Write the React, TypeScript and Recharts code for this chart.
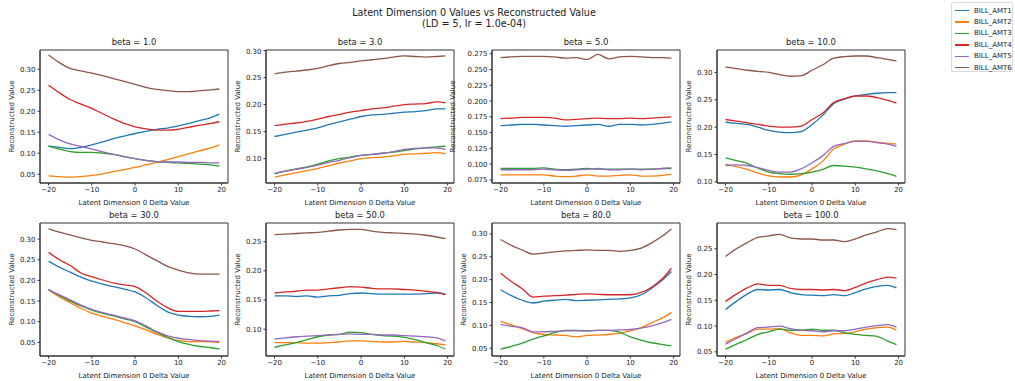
import { LineChart, Line, XAxis, YAxis, ReferenceArea } from "recharts";

const FONT = "'DejaVu Sans', sans-serif";

// latent delta values along the x axis
const DELTA = [-20, -17.5, -15, -12.5, -10, -7.5, -5, -2.5, 0, 2.5, 5, 7.5, 10, 12.5, 15, 17.5, 19.5];
const X_TICKS = [-20, -10, 0, 10, 20];

const SERIES = ["BILL_AMT1", "BILL_AMT2", "BILL_AMT3", "BILL_AMT4", "BILL_AMT5", "BILL_AMT6"];
const COLORS = ["#1f77b4", "#ff7f0e", "#2ca02c", "#d62728", "#9467bd", "#8c564b"];

const BETAS = ["1.0", "3.0", "5.0", "10.0", "30.0", "50.0", "80.0", "100.0"];

// one row per BILL_AMT column
const BETA_1 = [
  [0.117, 0.114, 0.111, 0.114, 0.120, 0.127, 0.135, 0.141, 0.147, 0.152, 0.157, 0.160, 0.165, 0.171, 0.178, 0.185, 0.193],
  [0.046, 0.044, 0.043, 0.044, 0.047, 0.051, 0.056, 0.061, 0.066, 0.072, 0.078, 0.085, 0.092, 0.099, 0.106, 0.113, 0.120],
  [0.117, 0.110, 0.104, 0.102, 0.102, 0.100, 0.097, 0.092, 0.087, 0.083, 0.080, 0.078, 0.077, 0.076, 0.074, 0.072, 0.069],
  [0.262, 0.244, 0.228, 0.217, 0.207, 0.194, 0.182, 0.171, 0.163, 0.158, 0.155, 0.155, 0.157, 0.162, 0.167, 0.171, 0.175],
  [0.145, 0.132, 0.122, 0.116, 0.110, 0.103, 0.097, 0.092, 0.087, 0.083, 0.080, 0.079, 0.079, 0.078, 0.078, 0.077, 0.077],
  [0.334, 0.316, 0.302, 0.296, 0.291, 0.285, 0.278, 0.271, 0.264, 0.257, 0.252, 0.249, 0.247, 0.247, 0.249, 0.251, 0.253],
];

const BETA_3 = [
  [0.141, 0.145, 0.149, 0.153, 0.157, 0.163, 0.168, 0.173, 0.178, 0.181, 0.182, 0.184, 0.186, 0.187, 0.189, 0.192, 0.192],
  [0.066, 0.070, 0.074, 0.078, 0.082, 0.087, 0.092, 0.096, 0.100, 0.102, 0.103, 0.105, 0.108, 0.109, 0.110, 0.111, 0.109],
  [0.072, 0.077, 0.081, 0.085, 0.090, 0.096, 0.100, 0.103, 0.106, 0.108, 0.110, 0.112, 0.115, 0.118, 0.120, 0.122, 0.123],
  [0.161, 0.164, 0.166, 0.169, 0.173, 0.178, 0.182, 0.186, 0.189, 0.192, 0.194, 0.197, 0.200, 0.201, 0.202, 0.205, 0.203],
  [0.073, 0.077, 0.080, 0.084, 0.088, 0.093, 0.097, 0.102, 0.106, 0.108, 0.110, 0.113, 0.117, 0.119, 0.120, 0.120, 0.117],
  [0.257, 0.260, 0.262, 0.264, 0.267, 0.272, 0.276, 0.278, 0.281, 0.283, 0.285, 0.288, 0.290, 0.289, 0.288, 0.289, 0.290],
];

const BETA_5 = [
  [0.161, 0.162, 0.163, 0.163, 0.162, 0.161, 0.160, 0.161, 0.162, 0.163, 0.160, 0.163, 0.163, 0.162, 0.163, 0.165, 0.167],
  [0.083, 0.083, 0.083, 0.083, 0.083, 0.081, 0.080, 0.081, 0.083, 0.081, 0.081, 0.082, 0.083, 0.081, 0.081, 0.082, 0.084],
  [0.093, 0.093, 0.093, 0.093, 0.094, 0.092, 0.091, 0.092, 0.093, 0.092, 0.092, 0.092, 0.092, 0.092, 0.092, 0.093, 0.093],
  [0.172, 0.173, 0.174, 0.174, 0.174, 0.173, 0.170, 0.171, 0.172, 0.173, 0.172, 0.172, 0.173, 0.172, 0.173, 0.174, 0.175],
  [0.091, 0.091, 0.091, 0.091, 0.092, 0.091, 0.090, 0.091, 0.092, 0.093, 0.091, 0.091, 0.092, 0.091, 0.092, 0.093, 0.094],
  [0.269, 0.270, 0.271, 0.271, 0.271, 0.270, 0.268, 0.269, 0.266, 0.274, 0.267, 0.270, 0.271, 0.270, 0.269, 0.269, 0.268],
];

const BETA_10 = [
  [0.209, 0.207, 0.205, 0.200, 0.194, 0.191, 0.190, 0.192, 0.205, 0.222, 0.243, 0.251, 0.257, 0.260, 0.262, 0.263, 0.263],
  [0.132, 0.128, 0.123, 0.116, 0.111, 0.109, 0.109, 0.113, 0.124, 0.138, 0.160, 0.169, 0.175, 0.175, 0.172, 0.171, 0.169],
  [0.144, 0.139, 0.134, 0.125, 0.118, 0.115, 0.114, 0.115, 0.118, 0.123, 0.130, 0.129, 0.127, 0.124, 0.120, 0.115, 0.110],
  [0.214, 0.211, 0.208, 0.205, 0.202, 0.200, 0.200, 0.202, 0.214, 0.226, 0.245, 0.252, 0.257, 0.257, 0.254, 0.249, 0.244],
  [0.130, 0.131, 0.130, 0.126, 0.121, 0.118, 0.118, 0.124, 0.135, 0.148, 0.165, 0.170, 0.174, 0.174, 0.172, 0.169, 0.165],
  [0.310, 0.307, 0.304, 0.302, 0.300, 0.296, 0.293, 0.294, 0.304, 0.314, 0.326, 0.329, 0.330, 0.330, 0.327, 0.324, 0.321],
];

const BETA_30 = [
  [0.246, 0.232, 0.220, 0.208, 0.198, 0.191, 0.185, 0.179, 0.172, 0.158, 0.140, 0.124, 0.116, 0.113, 0.112, 0.113, 0.116],
  [0.177, 0.160, 0.146, 0.132, 0.121, 0.113, 0.106, 0.098, 0.090, 0.080, 0.070, 0.061, 0.054, 0.052, 0.052, 0.051, 0.050],
  [0.178, 0.163, 0.150, 0.138, 0.128, 0.120, 0.114, 0.107, 0.100, 0.087, 0.074, 0.062, 0.052, 0.045, 0.040, 0.037, 0.034],
  [0.268, 0.250, 0.236, 0.218, 0.209, 0.201, 0.194, 0.189, 0.185, 0.170, 0.150, 0.134, 0.125, 0.125, 0.125, 0.126, 0.127],
  [0.178, 0.165, 0.153, 0.140, 0.130, 0.122, 0.116, 0.109, 0.102, 0.090, 0.076, 0.066, 0.060, 0.057, 0.054, 0.053, 0.052],
  [0.325, 0.317, 0.310, 0.303, 0.297, 0.293, 0.289, 0.284, 0.276, 0.262, 0.248, 0.234, 0.225, 0.218, 0.215, 0.215, 0.215],
];

const BETA_50 = [
  [0.157, 0.157, 0.156, 0.157, 0.155, 0.157, 0.158, 0.161, 0.162, 0.161, 0.160, 0.160, 0.160, 0.160, 0.161, 0.162, 0.160],
  [0.077, 0.077, 0.077, 0.076, 0.076, 0.077, 0.078, 0.080, 0.080, 0.079, 0.078, 0.078, 0.079, 0.078, 0.077, 0.075, 0.073],
  [0.069, 0.073, 0.077, 0.082, 0.087, 0.090, 0.091, 0.095, 0.094, 0.091, 0.089, 0.088, 0.086, 0.082, 0.077, 0.072, 0.066],
  [0.162, 0.164, 0.165, 0.167, 0.167, 0.169, 0.171, 0.173, 0.172, 0.170, 0.169, 0.169, 0.168, 0.167, 0.165, 0.163, 0.159],
  [0.083, 0.085, 0.087, 0.088, 0.089, 0.090, 0.091, 0.092, 0.091, 0.091, 0.090, 0.090, 0.089, 0.088, 0.087, 0.085, 0.080],
  [0.262, 0.263, 0.264, 0.265, 0.266, 0.268, 0.270, 0.271, 0.271, 0.268, 0.266, 0.265, 0.264, 0.263, 0.261, 0.258, 0.255],
];

const BETA_80 = [
  [0.178, 0.165, 0.155, 0.149, 0.153, 0.155, 0.157, 0.154, 0.155, 0.156, 0.157, 0.158, 0.160, 0.167, 0.182, 0.200, 0.218],
  [0.109, 0.101, 0.093, 0.084, 0.080, 0.079, 0.078, 0.075, 0.078, 0.079, 0.080, 0.083, 0.088, 0.095, 0.106, 0.117, 0.128],
  [0.048, 0.054, 0.061, 0.070, 0.077, 0.084, 0.089, 0.089, 0.088, 0.089, 0.089, 0.085, 0.075, 0.068, 0.062, 0.058, 0.055],
  [0.214, 0.196, 0.180, 0.162, 0.164, 0.165, 0.166, 0.168, 0.169, 0.168, 0.167, 0.167, 0.167, 0.172, 0.184, 0.203, 0.225],
  [0.102, 0.098, 0.095, 0.086, 0.086, 0.087, 0.088, 0.088, 0.088, 0.089, 0.089, 0.090, 0.091, 0.094, 0.099, 0.106, 0.113],
  [0.288, 0.275, 0.265, 0.256, 0.258, 0.261, 0.263, 0.264, 0.265, 0.264, 0.264, 0.262, 0.264, 0.269, 0.281, 0.296, 0.311],
];

const BETA_100 = [
  [0.132, 0.148, 0.162, 0.171, 0.170, 0.171, 0.165, 0.161, 0.160, 0.159, 0.161, 0.159, 0.165, 0.172, 0.177, 0.179, 0.174],
  [0.069, 0.078, 0.086, 0.094, 0.094, 0.095, 0.087, 0.082, 0.082, 0.081, 0.085, 0.086, 0.089, 0.094, 0.097, 0.098, 0.092],
  [0.055, 0.065, 0.074, 0.084, 0.089, 0.094, 0.092, 0.092, 0.094, 0.092, 0.092, 0.087, 0.084, 0.082, 0.080, 0.071, 0.064],
  [0.148, 0.162, 0.174, 0.182, 0.179, 0.179, 0.173, 0.171, 0.171, 0.170, 0.171, 0.169, 0.175, 0.184, 0.190, 0.195, 0.193],
  [0.065, 0.076, 0.087, 0.097, 0.098, 0.100, 0.095, 0.092, 0.091, 0.089, 0.091, 0.091, 0.094, 0.098, 0.101, 0.103, 0.098],
  [0.235, 0.250, 0.262, 0.272, 0.275, 0.278, 0.271, 0.269, 0.269, 0.267, 0.267, 0.264, 0.269, 0.277, 0.283, 0.289, 0.287],
];

const Y_TICKS_1 = [0.05, 0.1, 0.15, 0.2, 0.25, 0.3];
const Y_TICKS_3 = [0.1, 0.15, 0.2, 0.25, 0.3];
const Y_TICKS_5 = [0.075, 0.1, 0.125, 0.15, 0.175, 0.2, 0.225, 0.25, 0.275];
const Y_TICKS_10 = [0.1, 0.15, 0.2, 0.25, 0.3];
const Y_TICKS_30 = [0.05, 0.1, 0.15, 0.2, 0.25, 0.3];
const Y_TICKS_50 = [0.1, 0.15, 0.2, 0.25];
const Y_TICKS_80 = [0.05, 0.1, 0.15, 0.2, 0.25, 0.3];
const Y_TICKS_100 = [0.05, 0.1, 0.15, 0.2, 0.25];

const PANELS = [
  { values: BETA_1, ticks: Y_TICKS_1, domain: [0.029, 0.346], digits: 2 },
  { values: BETA_3, ticks: Y_TICKS_3, domain: [0.055, 0.301], digits: 2 },
  { values: BETA_5, ticks: Y_TICKS_5, domain: [0.070, 0.281], digits: 3 },
  { values: BETA_10, ticks: Y_TICKS_10, domain: [0.098, 0.341], digits: 2 },
  { values: BETA_30, ticks: Y_TICKS_30, domain: [0.017, 0.339], digits: 2 },
  { values: BETA_50, ticks: Y_TICKS_50, domain: [0.054, 0.282], digits: 2 },
  { values: BETA_80, ticks: Y_TICKS_80, domain: [0.033, 0.324], digits: 2 },
  { values: BETA_100, ticks: Y_TICKS_100, domain: [0.042, 0.300], digits: 2 },
];

const X_DOMAIN = [-21.975, 21.475];
const PLOT_W = 188;
const PLOT_H = 133;
const AXIS_W = 50;
const COL_LEFT = [40, 266, 492, 717];
const ROW_TOP = [50, 223];

const minus = (s: string) => s.replace("-", "\u2212");

function Panel({ idx }: { idx: number }) {
  const p = PANELS[idx];
  const rows = DELTA.map((x, i) => {
    const r: any = { x };
    SERIES.forEach((s, k) => (r[s] = p.values[k][i]));
    return r;
  });
  const left = COL_LEFT[idx % 4];
  const top = ROW_TOP[Math.floor(idx / 4)];
  const gap = p.digits === 3 ? 39 : 28;
  const tickStyle = { fontSize: 7, fill: "#222", fontFamily: FONT };

  return (
    <>
      <div
        style={{
          position: "absolute",
          left,
          top: top - 13,
          width: PLOT_W,
          textAlign: "center",
          fontSize: 8.4,
          lineHeight: "10px",
          color: "#222",
        }}
      >
        beta = {BETAS[idx]}
      </div>
      <div style={{ position: "absolute", left: left - AXIS_W, top: top - 2 }}>
        <LineChart
          width={AXIS_W + PLOT_W + 4}
          height={PLOT_H + 27}
          data={rows}
          margin={{ top: 2, right: 4, bottom: 0, left: 0 }}
        >
          <XAxis
            dataKey="x"
            type="number"
            domain={X_DOMAIN}
            allowDataOverflow
            ticks={X_TICKS}
            tickFormatter={(v: number) => minus(String(v))}
            height={25}
            tickSize={2.5}
            tickMargin={2}
            stroke="#333"
            tick={tickStyle}
            label={{
              value: "Latent Dimension 0 Delta Value",
              position: "insideBottom",
              offset: 3,
              style: { fontSize: 7, fill: "#222", fontFamily: FONT },
            }}
          />
          <YAxis
            type="number"
            domain={p.domain}
            allowDataOverflow
            ticks={p.ticks}
            tickFormatter={(v: number) => v.toFixed(p.digits)}
            width={AXIS_W}
            tickSize={2.5}
            tickMargin={2}
            stroke="#333"
            tick={tickStyle}
            label={{
              value: "Reconstructed Value",
              angle: -90,
              position: "insideLeft",
              offset: AXIS_W - gap,
              style: { fontSize: 7, fill: "#222", fontFamily: FONT, textAnchor: "middle" },
            }}
          />
          <ReferenceArea
            x1={X_DOMAIN[0]}
            x2={X_DOMAIN[1]}
            y1={p.domain[0]}
            y2={p.domain[1]}
            fill="none"
            stroke="#333"
            strokeWidth={1}
          />
          {SERIES.map((s, k) => (
            <Line
              key={s}
              dataKey={s}
              type="monotone"
              stroke={COLORS[k]}
              strokeWidth={1.3}
              dot={false}
              isAnimationActive={false}
            />
          ))}
        </LineChart>
      </div>
    </>
  );
}

export default function App() {
  return (
    <div
      style={{
        position: "absolute",
        left: 0,
        top: 0,
        width: 1015,
        height: 381,
        background: "#fff",
        fontFamily: FONT,
        overflow: "hidden",
      }}
    >
      <div
        style={{
          position: "absolute",
          left: 324,
          top: 7,
          width: 300,
          textAlign: "center",
          fontSize: 9.6,
          lineHeight: "11px",
          color: "#222",
        }}
      >
        Latent Dimension 0 Values vs Reconstructed Value
        <br />
        (LD = 5, lr = 1.0e-04)
      </div>
      {PANELS.map((_, i) => (
        <Panel key={i} idx={i} />
      ))}
      <div
        style={{
          position: "absolute",
          left: 951,
          top: 2,
          width: 62,
          height: 70,
          border: "1px solid #d9d9d9",
          borderRadius: 2,
          background: "#fff",
          boxSizing: "border-box",
          paddingTop: 2,
        }}
      >
        {SERIES.map((s, k) => (
          <div key={s} style={{ display: "flex", alignItems: "center", height: 11.4 }}>
            <span
              style={{
                display: "inline-block",
                width: 14,
                height: 1.5,
                background: COLORS[k],
                marginLeft: 3,
                marginRight: 5,
              }}
            />
            <span style={{ fontSize: 7, color: "#222", whiteSpace: "nowrap" }}>{s}</span>
          </div>
        ))}
      </div>
    </div>
  );
}
